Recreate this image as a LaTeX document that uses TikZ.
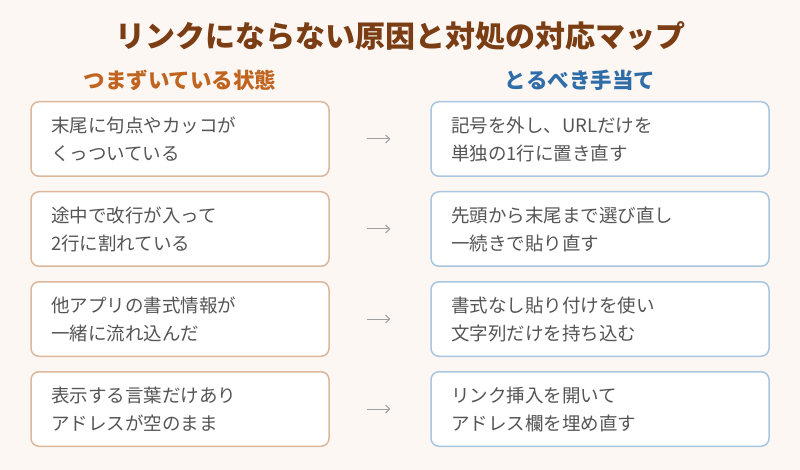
\documentclass[tikz,border=0pt]{standalone}
\usepackage{fontspec}
\setmainfont{Noto Sans CJK JP}
\usetikzlibrary{
	arrows.meta,
	positioning
}
\definecolor{fondo}{HTML}{FDF7F4}
\definecolor{titulo}{HTML}{7A3D14}
\definecolor{tituloA}{HTML}{C0641F}
\definecolor{tituloB}{HTML}{2F6DA8}
\definecolor{bordeA}{HTML}{DDB79C}
\definecolor{bordeB}{HTML}{A9C5E0}
\definecolor{texto}{HTML}{555555}

\begin{document}
\begin{tikzpicture}[x=1pt, y=-1pt,
  estado/.style={rectangle, draw=bordeA, line width=1.5pt, fill=white,
    rounded corners=8pt, align=left, text width=258pt, inner xsep=20pt,
    inner ysep=0pt, minimum height=74.5pt, text=texto,
    font=\fontsize{18.5}{28}\selectfont},
  remedio/.style={estado, draw=bordeB, text width=298pt},
  flecha/.style={-{Straight Barb[length=4pt]}, draw=gray!75, line width=1pt,
    shorten <=37pt, shorten >=40pt}
]
\fill[fondo] (0,0) rectangle (800,470);
\useasboundingbox (0,0) rectangle (800,470);
\node[font=\fontsize{30}{32}\selectfont\bfseries, text=titulo] (titulo) at (400,36)
  {リンクにならない原因と対処の対応マップ};
\node[font=\fontsize{21.5}{24}\selectfont\bfseries, text=tituloA] (cabA) at (180,80)
  {つまずいている状態};
\node[font=\fontsize{21.5}{24}\selectfont\bfseries, text=tituloB] (cabB) at (580,80)
  {とるべき手当て};
\node[estado] (l1) at (180,139) {末尾に句点やカッコが\\くっついている};
\node[estado, below=14pt of l1] (l2) {途中で改行が入って\\2行に割れている};
\node[estado, below=14pt of l2] (l3) {他アプリの書式情報が\\一緒に流れ込んだ};
\node[estado, below=14pt of l3] (l4) {表示する言葉だけあり\\アドレスが空のまま};
\node[remedio] (r1) at (600,139) {記号を外し、URLだけを\\単独の1行に置き直す};
\node[remedio, below=14pt of r1] (r2) {先頭から末尾まで選び直し\\一続きで貼り直す};
\node[remedio, below=14pt of r2] (r3) {書式なし貼り付けを使い\\文字列だけを持ち込む};
\node[remedio, below=14pt of r3] (r4) {リンク挿入を開いて\\アドレス欄を埋め直す};
\draw[flecha] (l1) -- (r1);
\draw[flecha] (l2) -- (r2);
\draw[flecha] (l3) -- (r3);
\draw[flecha] (l4) -- (r4);
\end{tikzpicture}
\end{document}
